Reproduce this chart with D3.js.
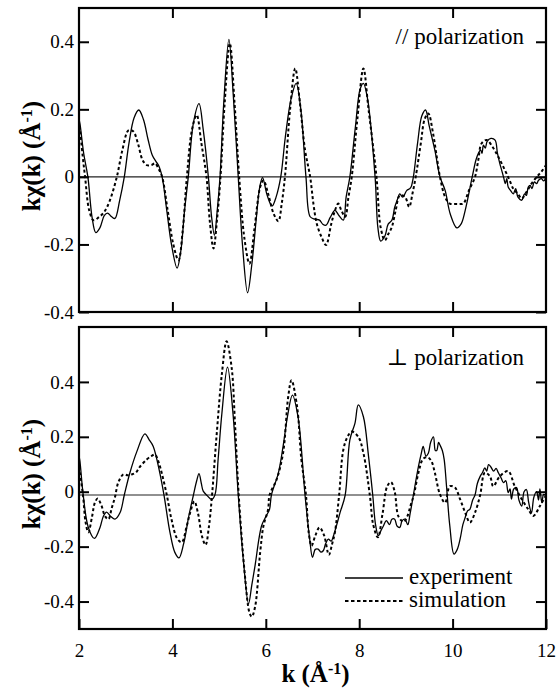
<!DOCTYPE html>
<html><head><meta charset="utf-8">
<script src="https://cdn.jsdelivr.net/npm/d3@7"></script>
<style>
html,body{margin:0;padding:0;background:#fff;}
svg{display:block;}
svg text{font-family:"Liberation Serif","Times New Roman",Times,"DejaVu Serif",serif !important;fill:#000;}
</style></head>
<body>
<svg id="chart" width="557" height="689"></svg>
<script>
// ---- data ----
const kTicks = [2, 4, 6, 8, 10, 12];
const topYTicks = [-0.4, -0.2, 0, 0.2, 0.4];
const botYTicks = [-0.4, -0.2, 0, 0.2, 0.4];
const topYDomain = [-0.4, 0.5];
const botYDomain = [-0.5, 0.6];
const topRefLine = 0;
const botRefLine = -0.012;
const topLabel = "// polarization";
const botLabel = "\u22A5 polarization";
const legendLabels = ["experiment", "simulation"];

const parExp = [[2.00,0.17],[2.02,0.158],[2.10,0.07],[2.19,0.0],[2.28,-0.12],[2.36,-0.165],[2.45,-0.15],[2.54,-0.115],[2.61,-0.107],[2.70,-0.118],[2.77,-0.123],[2.87,-0.07],[2.97,0.0],[3.07,0.1],[3.18,0.175],[3.28,0.198],[3.38,0.17],[3.48,0.11],[3.57,0.064],[3.65,0.045],[3.70,0.035],[3.78,0.0],[3.88,-0.1],[3.98,-0.2],[4.10,-0.27],[4.18,-0.22],[4.26,-0.1],[4.34,0.0],[4.45,0.16],[4.57,0.217],[4.66,0.14],[4.77,0.0],[4.84,-0.12],[4.90,-0.173],[4.96,-0.1],[5.02,0.0],[5.10,0.22],[5.21,0.407],[5.30,0.25],[5.41,0.0],[5.50,-0.2],[5.61,-0.343],[5.70,-0.26],[5.80,-0.118],[5.87,-0.03],[5.93,-0.002],[6.02,-0.05],[6.10,-0.08],[6.14,-0.086],[6.22,-0.06],[6.32,0.0],[6.42,0.12],[6.54,0.23],[6.65,0.277],[6.75,0.2],[6.86,0.0],[6.95,-0.118],[7.05,-0.125],[7.15,-0.128],[7.22,-0.14],[7.29,-0.143],[7.38,-0.12],[7.48,-0.099],[7.57,-0.115],[7.66,-0.128],[7.72,-0.06],[7.80,0.0],[7.92,0.15],[8.02,0.26],[8.09,0.277],[8.18,0.23],[8.34,0.0],[8.40,-0.15],[8.46,-0.19],[8.55,-0.175],[8.62,-0.14],[8.70,-0.128],[8.76,-0.09],[8.81,-0.07],[8.87,-0.05],[8.93,-0.06],[9.02,-0.04],[9.08,-0.035],[9.11,-0.03],[9.16,0.0],[9.25,0.1],[9.34,0.18],[9.42,0.198],[9.50,0.15],[9.62,0.079],[9.73,0.0],[9.84,-0.04],[9.95,-0.11],[10.09,-0.151],[10.18,-0.14],[10.27,-0.099],[10.42,0.0],[10.50,0.05],[10.55,0.069],[10.60,0.08],[10.63,0.07],[10.66,0.094],[10.70,0.085],[10.74,0.105],[10.82,0.114],[10.91,0.109],[10.96,0.07],[11.01,0.04],[11.05,0.02],[11.09,0.0],[11.13,-0.02],[11.16,-0.005],[11.19,-0.03],[11.24,-0.04],[11.30,-0.05],[11.35,-0.035],[11.40,-0.06],[11.48,-0.069],[11.54,-0.05],[11.58,-0.055],[11.62,-0.03],[11.66,-0.025],[11.70,-0.035],[11.75,-0.015],[11.80,-0.02],[11.84,-0.01],[11.90,-0.005],[11.95,-0.012],[12.0,0.0]];

const parSim = [[2.00,0.15],[2.02,0.138],[2.08,0.06],[2.13,0.0],[2.22,-0.1],[2.31,-0.128],[2.42,-0.12],[2.54,-0.104],[2.66,-0.07],[2.81,0.0],[2.93,0.08],[3.06,0.138],[3.16,0.135],[3.26,0.1],[3.36,0.05],[3.45,0.035],[3.55,0.035],[3.63,0.04],[3.70,0.025],[3.78,0.0],[3.90,-0.1],[4.02,-0.2],[4.13,-0.247],[4.22,-0.16],[4.31,0.0],[4.42,0.14],[4.52,0.183],[4.62,0.1],[4.73,0.0],[4.80,-0.13],[4.88,-0.212],[4.96,-0.12],[5.03,0.0],[5.12,0.22],[5.23,0.395],[5.33,0.22],[5.43,0.0],[5.54,-0.18],[5.65,-0.257],[5.76,-0.15],[5.88,-0.03],[5.95,-0.01],[6.05,-0.05],[6.17,-0.11],[6.27,-0.131],[6.34,-0.08],[6.41,0.0],[6.52,0.2],[6.63,0.321],[6.73,0.22],[6.84,0.08],[6.95,0.0],[7.02,-0.08],[7.09,-0.138],[7.20,-0.18],[7.29,-0.202],[7.40,-0.14],[7.48,-0.1],[7.55,-0.079],[7.62,-0.1],[7.70,-0.118],[7.77,-0.06],[7.84,0.0],[7.96,0.17],[8.09,0.321],[8.20,0.2],[8.37,0.0],[8.46,-0.15],[8.55,-0.188],[8.62,-0.17],[8.70,-0.148],[8.78,-0.1],[8.87,-0.055],[8.98,-0.059],[9.07,-0.089],[9.14,-0.05],[9.21,0.0],[9.32,0.1],[9.40,0.17],[9.48,0.188],[9.58,0.13],[9.66,0.06],[9.73,0.0],[9.84,-0.06],[9.94,-0.079],[10.05,-0.08],[10.15,-0.08],[10.23,-0.079],[10.35,-0.04],[10.48,0.0],[10.55,0.05],[10.62,0.099],[10.73,0.109],[10.85,0.09],[10.98,0.059],[11.12,0.02],[11.22,-0.01],[11.30,-0.035],[11.40,-0.05],[11.48,-0.064],[11.58,-0.045],[11.69,-0.02],[11.80,0.0],[11.90,0.015],[12.0,0.035]];

const perpExp = [[2.00,0.13],[2.02,0.111],[2.09,-0.012],[2.20,-0.13],[2.33,-0.17],[2.45,-0.13],[2.52,-0.09],[2.59,-0.074],[2.68,-0.09],[2.77,-0.10],[2.88,-0.076],[2.97,-0.012],[3.09,0.069],[3.24,0.147],[3.41,0.211],[3.50,0.19],[3.59,0.165],[3.73,0.069],[3.82,-0.012],[3.95,-0.15],[4.05,-0.22],[4.14,-0.241],[4.24,-0.19],[4.35,-0.09],[4.45,-0.012],[4.52,0.04],[4.57,0.066],[4.62,0.03],[4.66,0.002],[4.75,-0.015],[4.84,-0.028],[4.91,-0.012],[4.98,0.12],[5.06,0.286],[5.18,0.454],[5.30,0.28],[5.41,-0.012],[5.52,-0.25],[5.63,-0.408],[5.70,-0.34],[5.77,-0.269],[5.91,-0.124],[6.01,-0.088],[6.08,-0.064],[6.12,-0.012],[6.27,0.069],[6.37,0.165],[6.47,0.28],[6.57,0.352],[6.69,0.273],[6.84,-0.012],[6.94,-0.173],[7.00,-0.239],[7.06,-0.21],[7.12,-0.209],[7.18,-0.22],[7.23,-0.215],[7.28,-0.19],[7.34,-0.173],[7.40,-0.18],[7.45,-0.16],[7.52,-0.12],[7.59,-0.076],[7.70,-0.012],[7.80,0.189],[7.91,0.25],[7.98,0.316],[8.09,0.273],[8.20,0.129],[8.29,-0.012],[8.35,-0.12],[8.41,-0.16],[8.47,-0.14],[8.52,-0.124],[8.58,-0.105],[8.65,-0.12],[8.70,-0.10],[8.76,-0.10],[8.81,-0.125],[8.87,-0.13],[8.92,-0.105],[8.98,-0.10],[9.04,-0.12],[9.09,-0.08],[9.16,-0.012],[9.27,0.093],[9.33,0.14],[9.37,0.165],[9.43,0.13],[9.48,0.14],[9.53,0.18],[9.59,0.2],[9.63,0.15],[9.66,0.15],[9.70,0.18],[9.73,0.17],[9.78,0.15],[9.82,0.117],[9.87,0.02],[9.94,-0.124],[10.03,-0.227],[10.10,-0.21],[10.16,-0.173],[10.22,-0.12],[10.27,-0.094],[10.32,-0.07],[10.37,-0.064],[10.43,-0.03],[10.48,-0.012],[10.53,0.03],[10.59,0.056],[10.64,0.07],[10.69,0.087],[10.73,0.075],[10.77,0.099],[10.82,0.09],[10.88,0.075],[10.93,0.085],[10.98,0.069],[11.04,0.05],[11.09,0.033],[11.14,0.04],[11.19,-0.003],[11.23,0.01],[11.26,-0.027],[11.31,0.01],[11.37,0.015],[11.42,-0.03],[11.48,-0.052],[11.53,0.0],[11.58,0.008],[11.63,-0.04],[11.69,-0.076],[11.74,-0.02],[11.80,0.0],[11.84,-0.03],[11.87,0.01],[11.91,-0.04],[11.95,-0.01],[12.0,-0.016]];

const perpSim = [[2.00,0.09],[2.02,0.069],[2.09,-0.02],[2.14,-0.11],[2.20,-0.148],[2.28,-0.09],[2.34,-0.04],[2.40,-0.025],[2.48,-0.05],[2.56,-0.09],[2.63,-0.10],[2.70,-0.06],[2.77,-0.02],[2.84,0.033],[2.95,0.063],[3.04,0.06],[3.13,0.063],[3.22,0.07],[3.30,0.09],[3.45,0.117],[3.55,0.13],[3.63,0.135],[3.70,0.11],[3.77,0.069],[3.88,-0.012],[3.98,-0.1],[4.10,-0.17],[4.20,-0.184],[4.30,-0.13],[4.38,-0.076],[4.47,-0.035],[4.55,-0.08],[4.63,-0.16],[4.71,-0.194],[4.78,-0.13],[4.84,-0.03],[4.95,0.213],[5.06,0.43],[5.16,0.548],[5.27,0.45],[5.34,0.25],[5.42,-0.012],[5.55,-0.3],[5.65,-0.44],[5.70,-0.455],[5.77,-0.42],[5.88,-0.22],[5.95,-0.124],[6.05,-0.064],[6.08,-0.012],[6.23,0.044],[6.37,0.141],[6.48,0.346],[6.55,0.406],[6.67,0.31],[6.76,0.12],[6.86,-0.012],[6.92,-0.15],[6.98,-0.197],[7.06,-0.16],[7.15,-0.13],[7.25,-0.16],[7.35,-0.23],[7.42,-0.19],[7.48,-0.148],[7.57,-0.012],[7.66,0.153],[7.75,0.2],[7.84,0.219],[7.98,0.20],[8.09,0.141],[8.23,-0.016],[8.30,-0.12],[8.40,-0.166],[8.50,-0.08],[8.60,0.02],[8.68,0.035],[8.76,0.0],[8.84,-0.09],[8.95,-0.11],[9.03,-0.09],[9.10,-0.05],[9.17,-0.012],[9.27,0.07],[9.37,0.12],[9.47,0.125],[9.55,0.11],[9.62,0.069],[9.73,-0.01],[9.84,-0.04],[9.94,0.02],[10.05,0.015],[10.16,-0.027],[10.27,-0.076],[10.37,-0.112],[10.48,-0.076],[10.59,-0.012],[10.69,0.069],[10.80,0.056],[10.87,0.02],[11.01,0.056],[11.19,0.075],[11.33,0.02],[11.48,-0.027],[11.62,-0.064],[11.73,-0.088],[11.87,-0.052],[11.99,-0.016]];

// ---- layout ----
const svg = d3.select("#chart");
const L = 79, R = 546;
const panels = [
  {top: 8, bottom: 312, dom: topYDomain, ticks: topYTicks, exp: parExp, sim: parSim, ref: topRefLine, label: topLabel, labelY: 44, xLabels: false, legend: false},
  {top: 327, bottom: 629, dom: botYDomain, ticks: botYTicks, exp: perpExp, sim: perpSim, ref: botRefLine, label: botLabel, labelY: 365, xLabels: true, legend: true}
];
const x = d3.scaleLinear().domain([2, 12]).range([L, R]);
const TL = 10;
const fmtY = d => d === 0 ? "0" : d3.format(".1f")(d).replace("\u2212", "-");

panels.forEach((p, i) => {
  const y = d3.scaleLinear().domain(p.dom).range([p.bottom, p.top]);
  const g = svg.append("g");
  const clipId = "clip" + i;
  svg.append("clipPath").attr("id", clipId).append("rect")
    .attr("x", L).attr("y", p.top).attr("width", R - L).attr("height", p.bottom - p.top);

  g.append("line").attr("x1", L).attr("x2", R).attr("y1", y(p.ref)).attr("y2", y(p.ref))
    .attr("stroke", "#222").attr("stroke-width", 1.2);

  const line = d3.line().x(d => x(d[0])).y(d => y(d[1])).curve(d3.curveCatmullRom.alpha(0.5));
  g.append("path").datum(p.sim).attr("d", line).attr("fill", "none")
    .attr("stroke", "#000").attr("stroke-width", 2).attr("stroke-dasharray", "3,2.5")
    .attr("clip-path", `url(#${clipId})`);
  g.append("path").datum(p.exp).attr("d", line).attr("fill", "none")
    .attr("stroke", "#000").attr("stroke-width", 1.3)
    .attr("clip-path", `url(#${clipId})`);

  const axL = d3.axisLeft(y).tickValues(p.ticks).tickSize(-TL).tickPadding(5).tickFormat(fmtY);
  const gl = g.append("g").attr("transform", `translate(${L},0)`).call(axL);
  const axR = d3.axisRight(y).tickValues(p.ticks).tickSize(-TL).tickFormat("");
  const gr = g.append("g").attr("transform", `translate(${R},0)`).call(axR);
  const axT = d3.axisTop(x).tickValues(kTicks.slice(1, -1)).tickSize(-TL).tickFormat("");
  const gt = g.append("g").attr("transform", `translate(0,${p.top})`).call(axT);
  const axB = d3.axisBottom(x).tickValues(p.xLabels ? kTicks : kTicks.slice(1, -1)).tickSize(-TL).tickPadding(15)
    .tickFormat(p.xLabels ? d3.format("d") : "");
  const gb = g.append("g").attr("transform", `translate(0,${p.bottom})`).call(axB);
  [gl, gr, gt, gb].forEach(a => {
    a.attr("font-family", null);
    a.select(".domain").remove();
    a.selectAll(".tick line").attr("stroke", "#000").attr("stroke-width", 2);
    a.selectAll("text").attr("font-size", 19).attr("fill", "#000");
  });
  g.append("rect").attr("x", L).attr("y", p.top).attr("width", R - L).attr("height", p.bottom - p.top)
    .attr("fill", "none").attr("stroke", "#000").attr("stroke-width", 2.2);

  g.append("text").attr("x", 524).attr("y", p.labelY).attr("text-anchor", "end")
    .attr("font-size", 23).text(p.label);

  const yt = g.append("text").attr("transform", `translate(40,${(p.top + p.bottom) / 2 - 4}) rotate(-90)`)
    .attr("text-anchor", "middle").attr("font-size", 25).attr("font-weight", "bold");
  yt.append("tspan").text("k\u03C7(k) (\u00C5");
  yt.append("tspan").attr("baseline-shift", "super").attr("font-size", 16).text("-1");
  yt.append("tspan").text(")");

  if (p.legend) {
    const items = [{lab: legendLabels[0], dash: null, w: 1.3, yy: 578}, {lab: legendLabels[1], dash: "3.5,2.5", w: 2, yy: 601}];
    items.forEach(it => {
      g.append("line").attr("x1", 345).attr("x2", 403).attr("y1", it.yy).attr("y2", it.yy)
        .attr("stroke", "#000").attr("stroke-width", it.w).attr("stroke-dasharray", it.dash);
      g.append("text").attr("x", 409).attr("y", it.yy + 6).attr("font-size", 23).text(it.lab);
    });
  }
});

const xt = svg.append("text").attr("x", (L + R) / 2 + 3).attr("y", 682).attr("text-anchor", "middle")
  .attr("font-size", 25).attr("font-weight", "bold");
xt.append("tspan").text("k (\u00C5");
xt.append("tspan").attr("baseline-shift", "super").attr("font-size", 16).text("-1");
xt.append("tspan").text(")");
</script>
</body></html>
